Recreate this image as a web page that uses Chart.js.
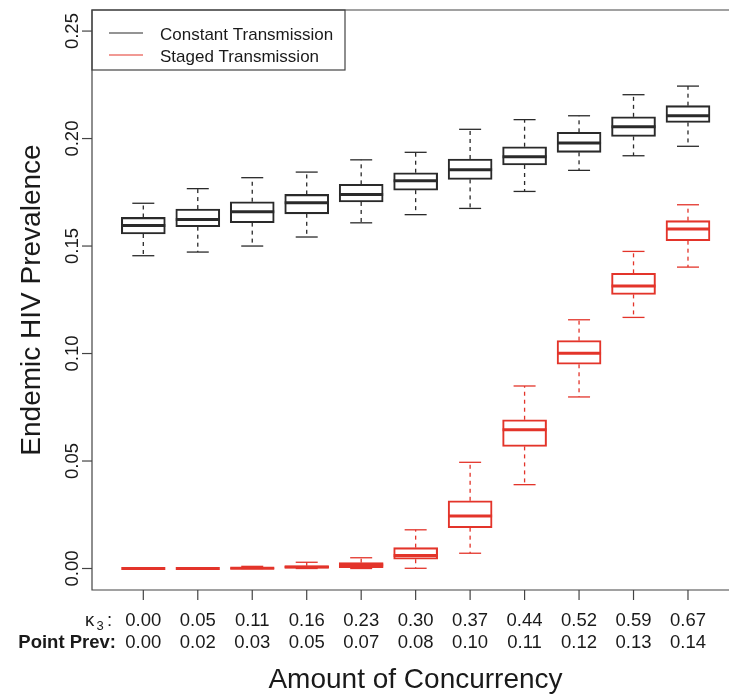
<!DOCTYPE html>
<html>
<head>
<meta charset="utf-8">
<script src="https://cdn.jsdelivr.net/npm/chart.js@4.4.1/dist/chart.umd.min.js"></script>
<style>
  html, body { margin: 0; padding: 0; background: #fff; }
  canvas { display: block; }
</style>
</head>
<body>
<canvas id="chart" width="729" height="696"></canvas>
<script>
// categories (amount of concurrency)
var kappa3 = ['0.00', '0.05', '0.11', '0.16', '0.23', '0.30', '0.37', '0.44', '0.52', '0.59', '0.67'];
var pointPrev = ['0.00', '0.02', '0.03', '0.05', '0.07', '0.08', '0.10', '0.11', '0.12', '0.13', '0.14'];
var yTicks = [0, 0.05, 0.10, 0.15, 0.20, 0.25];

// constant transmission box stats
var constMin = [0.1455, 0.1472, 0.1500, 0.1542, 0.1608, 0.1646, 0.1675, 0.1754, 0.1852, 0.1920, 0.1964];
var constQ1  = [0.1556, 0.1590, 0.1609, 0.1650, 0.1705, 0.1760, 0.1810, 0.1877, 0.1936, 0.2010, 0.2075];
var constMed = [0.1596, 0.1624, 0.1660, 0.1701, 0.1740, 0.1804, 0.1855, 0.1915, 0.1979, 0.2055, 0.2106];
var constQ3  = [0.1633, 0.1672, 0.1706, 0.1740, 0.1787, 0.1841, 0.1905, 0.1962, 0.2029, 0.2101, 0.2153];
var constMax = [0.1699, 0.1767, 0.1818, 0.1844, 0.1901, 0.1936, 0.2043, 0.2088, 0.2106, 0.2204, 0.2244];

// staged transmission box stats
var stagedMin = [0, 0, 0, 0, 0, 0.0001, 0.0071, 0.0390, 0.0798, 0.1168, 0.1402];
var stagedQ1  = [0, 0, 0, 0.0001, 0.0004, 0.0043, 0.0190, 0.0568, 0.0950, 0.1275, 0.1525];
var stagedMed = [0, 0, 0.0001, 0.0007, 0.0016, 0.0061, 0.0244, 0.0646, 0.1001, 0.1314, 0.1579];
var stagedQ3  = [0, 0, 0.0003, 0.0013, 0.0027, 0.0097, 0.0315, 0.0692, 0.1060, 0.1373, 0.1618];
var stagedMax = [0, 0, 0.0010, 0.0029, 0.0050, 0.0180, 0.0494, 0.0849, 0.1157, 0.1475, 0.1692];

var BLACK = '#2a2a2a';
var RED = '#e3342a';
var FONT = '"Liberation Sans", Arial, Helvetica, sans-serif';
var BOX_W = 44;

var series = [
	{ label: 'Constant Transmission', color: BLACK, min: constMin, q1: constQ1, med: constMed, q3: constQ3, max: constMax },
	{ label: 'Staged Transmission', color: RED, min: stagedMin, q1: stagedQ1, med: stagedMed, q3: stagedQ3, max: stagedMax },
];

function boxData(s) {
	return kappa3.map(function (k, i) {
		return { x: i + 1, y: [s.q1[i], s.q3[i]] };
	});
}

function line(ctx, x1, y1, x2, y2) {
	ctx.beginPath();
	ctx.moveTo(x1, y1);
	ctx.lineTo(x2, y2);
	ctx.stroke();
}

// whiskers, caps and medians on top of the floating bars
var boxParts = {
	id: 'boxParts',
	afterDatasetsDraw: function (chart) {
		var ctx = chart.ctx, xs = chart.scales.x, ys = chart.scales.y;
		ctx.save();
		series.forEach(function (s) {
			ctx.strokeStyle = s.color;
			for (var i = 0; i < kappa3.length; i++) {
				var cx = xs.getPixelForValue(i + 1);
				var yMin = ys.getPixelForValue(s.min[i]);
				var yQ1 = ys.getPixelForValue(s.q1[i]);
				var yQ3 = ys.getPixelForValue(s.q3[i]);
				var yMax = ys.getPixelForValue(s.max[i]);
				var yMed = ys.getPixelForValue(s.med[i]);
				// dashed whiskers
				ctx.lineWidth = 1.3;
				ctx.setLineDash([4, 4]);
				if (yMax < yQ3) line(ctx, cx, yQ3, cx, yMax);
				if (yMin > yQ1) line(ctx, cx, yQ1, cx, yMin);
				ctx.setLineDash([]);
				// staples
				line(ctx, cx - BOX_W / 4, yMax, cx + BOX_W / 4, yMax);
				line(ctx, cx - BOX_W / 4, yMin, cx + BOX_W / 4, yMin);
				// median
				ctx.lineWidth = 3;
				line(ctx, cx - BOX_W / 2, yMed, cx + BOX_W / 2, yMed);
			}
		});
		ctx.restore();
	}
};

// frame, axes, labels and legend in base-graphics style
var baseAxes = {
	id: 'baseAxes',
	afterDraw: function (chart) {
		var ctx = chart.ctx, a = chart.chartArea, xs = chart.scales.x, ys = chart.scales.y;
		ctx.save();
		ctx.strokeStyle = '#444';
		ctx.lineWidth = 1.2;
		// frame (right side is off the picture)
		ctx.beginPath();
		ctx.moveTo(a.right, a.top);
		ctx.lineTo(a.left, a.top);
		ctx.lineTo(a.left, a.bottom);
		ctx.lineTo(a.right, a.bottom);
		ctx.stroke();

		ctx.fillStyle = '#1a1a1a';
		// y ticks and rotated labels
		ctx.font = '18.5px ' + FONT;
		ctx.textAlign = 'center';
		ctx.textBaseline = 'alphabetic';
		yTicks.forEach(function (v) {
			var y = ys.getPixelForValue(v);
			line(ctx, a.left, y, a.left - 10, y);
			ctx.save();
			ctx.translate(78, y);
			ctx.rotate(-Math.PI / 2);
			ctx.fillText(v.toFixed(2), 0, 0);
			ctx.restore();
		});

		// x ticks and the two label rows
		kappa3.forEach(function (k, i) {
			var x = xs.getPixelForValue(i + 1);
			line(ctx, x, a.bottom, x, a.bottom + 10);
			ctx.font = '18.5px ' + FONT;
			ctx.textAlign = 'center';
			ctx.fillText(k, x, 625.5);
			ctx.fillText(pointPrev[i], x, 648);
		});
		// row captions
		ctx.textAlign = 'left';
		ctx.font = '18.5px ' + FONT;
		ctx.fillText('\u03ba', 85, 625.5);
		ctx.font = '13px ' + FONT;
		ctx.fillText('3', 96.5, 629.5);
		ctx.font = '18.5px ' + FONT;
		ctx.fillText(':', 107, 625.5);
		ctx.textAlign = 'right';
		ctx.font = 'bold 18.5px ' + FONT;
		ctx.fillText('Point Prev:', 116, 648);

		// axis titles
		ctx.font = '28px ' + FONT;
		ctx.textAlign = 'center';
		ctx.fillText('Amount of Concurrency', 415.5, 688);
		ctx.save();
		ctx.font = '28px ' + FONT;
		ctx.translate(40, (a.top + a.bottom) / 2);
		ctx.rotate(-Math.PI / 2);
		ctx.fillText('Endemic HIV Prevalence', 0, 0);
		ctx.restore();

		// legend
		ctx.lineWidth = 1.2;
		ctx.strokeStyle = '#444';
		ctx.strokeRect(a.left, a.top, 345 - a.left, 60);
		ctx.font = '17px ' + FONT;
		ctx.textAlign = 'left';
		series.forEach(function (s, j) {
			var y = 33 + j * 22;
			ctx.strokeStyle = s.color;
			ctx.lineWidth = 1.2;
			line(ctx, 109, y, 143, y);
			ctx.fillText(s.label, 160, y + 6.5);
		});
		ctx.restore();
	}
};

new Chart(document.getElementById('chart').getContext('2d'), {
	type: 'bar',
	data: {
		datasets: series.map(function (s) {
			return {
				label: s.label,
				data: boxData(s),
				backgroundColor: 'rgba(0,0,0,0)',
				borderColor: s.color,
				borderWidth: 1.4,
				borderSkipped: false,
				barThickness: BOX_W,
				grouped: false,
			};
		}),
	},
	options: {
		responsive: false,
		animation: false,
		devicePixelRatio: 1,
		layout: { padding: { left: 92, top: 10, right: 0, bottom: 106 } },
		scales: {
			x: { type: 'linear', min: 0.058, max: 11.753, offset: false, display: false },
			y: { type: 'linear', min: -0.0100, max: 0.2598, display: false },
		},
		plugins: {
			legend: { display: false },
			tooltip: { enabled: false },
		},
	},
	plugins: [boxParts, baseAxes],
});
</script>
</body>
</html>
